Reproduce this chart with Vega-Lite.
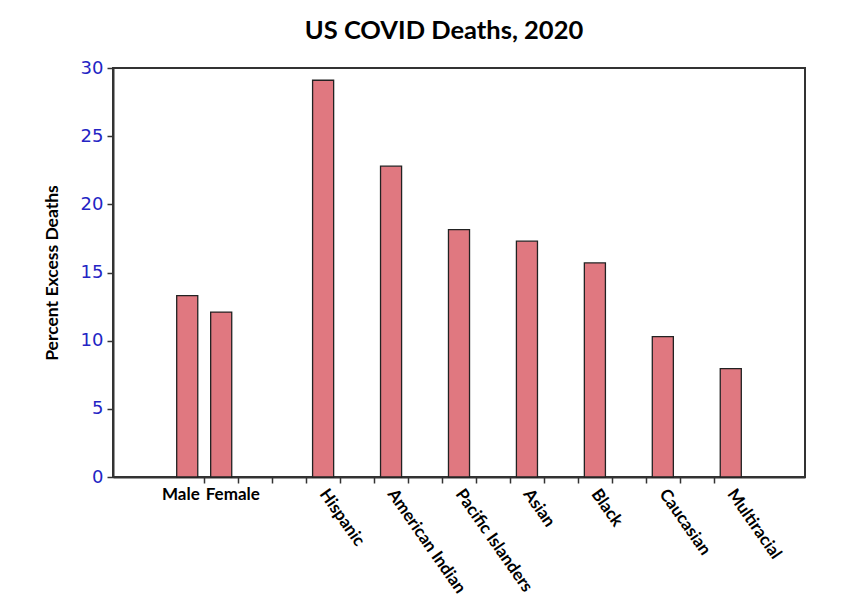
{
  "$schema": "https://vega.github.io/schema/vega-lite/v6.json",
  "autosize": "none",
  "width": 692,
  "height": 409,
  "padding": {"left": 113, "top": 68, "right": 45, "bottom": 139},
  "background": "white",
  "title": {
    "text": "US COVID Deaths, 2020",
    "font": "Lato",
    "fontSize": 25.5,
    "fontWeight": "bold",
    "color": "black",
    "anchor": "middle",
    "dx": -15,
    "dy": 35,
    "baseline": "alphabetic",
    "offset": 30
  },
  "config": {
    "view": {"stroke": "#333333", "strokeWidth": 2}
  },
  "data": {
    "values": [
      {"group": "Male", "pct": 13.3},
      {"group": "Female", "pct": 12.1},
      {"group": "Hispanic", "pct": 29.1},
      {"group": "American Indian", "pct": 22.8},
      {"group": "Pacific Islanders", "pct": 18.15},
      {"group": "Asian", "pct": 17.3},
      {"group": "Black", "pct": 15.7},
      {"group": "Caucasian", "pct": 10.3},
      {"group": "Multiracial", "pct": 7.95}
    ]
  },
  "mark": {"type": "bar", "fill": "#e07880", "stroke": "#222222", "strokeWidth": 1.3},
  "encoding": {
    "x": {
      "field": "group",
      "type": "nominal",
      "sort": null,
      "scale": {
        "domain": ["gap0", "Male", "Female", "gap1", "gap2", "Hispanic", "gap3", "American Indian", "gap4", "Pacific Islanders", "gap5", "Asian", "gap6", "Black", "gap7", "Caucasian", "gap8", "Multiracial", "gap9"],
        "paddingInner": 0.38,
        "paddingOuter": 0.875,
        "align": 0.5
      },
      "axis": {
        "title": null,
        "domain": true,
        "domainColor": "#333333",
        "domainWidth": 2,
        "ticks": true,
        "tickColor": "#333333",
        "tickWidth": 1.5,
        "tickSize": 6,
        "bandPosition": 0,
        "tickOffset": -6.45,
        "labelOffset": {"condition": [
          {"test": "datum.value == 'Male'", "value": 18.5},
          {"test": "datum.value == 'Female'", "value": -9.5}
        ], "value": 12.5},
        "tickOpacity": {"condition": {"test": "datum.value == 'Male' || datum.value == 'gap0' || datum.value == 'gap9'", "value": 0}, "value": 1},
        "labelExpr": "indexof(datum.value, 'gap') == 0 ? '' : datum.value",
        "labelFont": "Lato",
        "labelFontSize": 17,
        "labelFontWeight": "bold",
        "labelColor": "black",
        "labelPadding": 3,
        "labelOverlap": false,
        "labelBound": false,
        "labelLimit": 300,
        "labelAngle": {"expr": "datum.value == 'Male' || datum.value == 'Female' ? 0 : 55"},
        "labelAlign": {"condition": {"test": "datum.value == 'Male'", "value": "right"}, "value": "left"},
        "labelBaseline": "top"
      }
    },
    "y": {
      "field": "pct",
      "type": "quantitative",
      "scale": {"domain": [0, 30], "nice": false},
      "axis": {
        "title": "Percent Excess Deaths",
        "titleFont": "Lato",
        "titleFontSize": 17.5,
        "titleFontWeight": "bold",
        "titleColor": "black",
        "titlePadding": 19,
        "values": [0, 5, 10, 15, 20, 25, 30],
        "grid": false,
        "domain": true,
        "domainColor": "#333333",
        "domainWidth": 2,
        "tickColor": "#333333",
        "tickWidth": 1.5,
        "tickSize": 6,
        "labelFont": "DejaVu Sans",
        "labelFontSize": 18,
        "labelColor": "#2424c4",
        "labelPadding": 4
      }
    }
  }
}
